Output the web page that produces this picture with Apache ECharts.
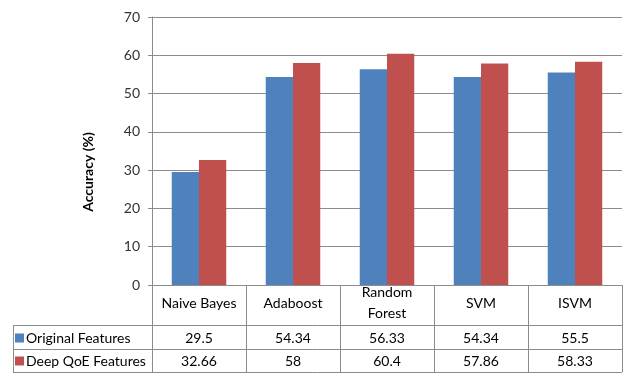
<!DOCTYPE html>
<html>
<head>
<meta charset="utf-8">
<script src="https://cdn.jsdelivr.net/npm/echarts@6/dist/echarts.min.js"></script>
<style>
  html, body { margin: 0; padding: 0; background: #fff; }
  #main { width: 623px; height: 373px; }
</style>
</head>
<body>
<div id="main"></div>
<script>
// data
var categories = ['Naive Bayes', 'Adaboost', 'Random\nForest', 'SVM', 'ISVM'];
var originalValues = [29.5, 54.34, 56.33, 54.34, 55.5];
var deepValues = [32.66, 58, 60.4, 57.86, 58.33];
var seriesNames = ['Original Features', 'Deep QoE Features'];

var fontName = 'Lato';
var lineColor = '#8c8c8c';

var option = {
    animation: false,
    textStyle: { fontFamily: fontName },
    color: ['#4f81bd', '#c0504d'],
    legend: {
        orient: 'vertical',
        left: 15,
        top: 331,
        padding: 0,
        itemWidth: 9,
        itemHeight: 9,
        itemGap: 9,
        icon: 'rect',
        textStyle: { fontFamily: fontName, fontSize: 14, color: '#000', padding: [0, 0, 0, -3] },
        data: seriesNames
    },
    grid: {
        left: 152,
        right: 1,
        top: 17,
        bottom: 88,
        containLabel: false,
        outerBoundsMode: 'none'
    },
    xAxis: [{
        type: 'category',
        position: 'bottom',
        data: categories,
        axisLine: { show: true, lineStyle: { color: lineColor } },
        axisTick: { show: true, length: 87, lineStyle: { color: lineColor } },
        axisLabel: {
            margin: 18,
            verticalAlign: 'middle',
            interval: 0,
            fontSize: 14,
            lineHeight: 21,
            color: '#000',
            fontFamily: fontName
        }
    }, {
        type: 'category',
        position: 'bottom',
        data: originalValues.map(String),
        axisLine: { show: false },
        axisTick: { show: false },
        axisLabel: {
            margin: 53,
            verticalAlign: 'middle',
            interval: 0,
            fontSize: 14,
            color: '#000',
            fontFamily: fontName
        }
    }, {
        type: 'category',
        position: 'bottom',
        data: deepValues.map(String),
        axisLine: { show: false },
        axisTick: { show: false },
        axisLabel: {
            margin: 76,
            verticalAlign: 'middle',
            interval: 0,
            fontSize: 14,
            color: '#000',
            fontFamily: fontName
        }
    }],
    yAxis: {
        type: 'value',
        min: 0,
        max: 70,
        interval: 10,
        axisLine: { show: true, lineStyle: { color: lineColor } },
        axisTick: { show: true, length: 4, lineStyle: { color: lineColor } },
        axisLabel: { fontSize: 14, color: '#333', margin: 12, fontFamily: fontName },
        splitLine: { show: true, lineStyle: { color: lineColor } }
    },
    graphic: [
        { type: 'line', shape: { x1: 13, y1: 325.5, x2: 622, y2: 325.5 }, style: { stroke: lineColor } },
        { type: 'line', shape: { x1: 13, y1: 349.5, x2: 622, y2: 349.5 }, style: { stroke: lineColor } },
        { type: 'line', shape: { x1: 13, y1: 372.5, x2: 622, y2: 372.5 }, style: { stroke: lineColor } },
        { type: 'line', shape: { x1: 13.5, y1: 325, x2: 13.5, y2: 373 }, style: { stroke: lineColor } },
        {
            type: 'text',
            x: 88,
            y: 172,
            rotation: Math.PI / 2,
            style: {
                text: 'Accuracy (%)',
                font: 'bold 14px ' + fontName,
                fill: '#000',
                textAlign: 'center',
                textVerticalAlign: 'middle'
            }
        }
    ],
    series: [{
        name: seriesNames[0],
        type: 'bar',
        barGap: '0%',
        barCategoryGap: '42%',
        data: originalValues
    }, {
        name: seriesNames[1],
        type: 'bar',
        barGap: '0%',
        barCategoryGap: '42%',
        data: deepValues
    }]
};

var chartDiv = document.getElementById('main');
var chart = echarts.init(chartDiv);
chart.setOption(option);
</script>
</body>
</html>
